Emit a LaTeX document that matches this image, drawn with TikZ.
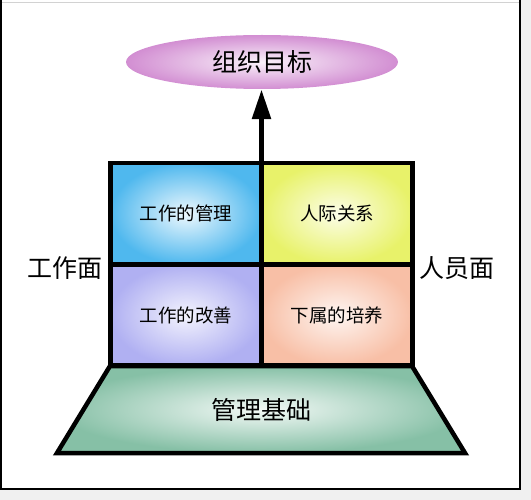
\documentclass[tikz,border=0pt]{standalone}
\usepackage{fontspec}
\newfontfamily\cjk{Noto Sans CJK SC}
\usetikzlibrary{shapes.geometric,arrows.meta}
\definecolor{cblue}{HTML}{4FB8EE}
\definecolor{cyellow}{HTML}{E8F26A}
\definecolor{clav}{HTML}{B0B0F2}
\definecolor{csalmon}{HTML}{F8BFA6}
\definecolor{cgreen}{HTML}{86C0A6}
\definecolor{corchid}{HTML}{D28ED2}
\tikzset{
  cell/.style={draw=black, line width=4.5pt, minimum width=151pt, minimum height=101pt,
    shading=radial, font=\cjk\fontsize{18.5}{20}\selectfont, inner sep=0pt},
  biglabel/.style={font=\cjk\fontsize{25}{28}\selectfont, inner sep=0pt},
}
\begin{document}
\begin{tikzpicture}[x=1pt,y=-1pt]
\useasboundingbox (0,0) rectangle (531,500);
% frame
\fill[gray!12] (0,0) rectangle (531,500);
\fill[white] (0,0) rectangle (520,489);
\draw[gray!35, line width=1pt] (1,2.5) -- (520,2.5);
\draw[black, line width=2pt] (1,0) -- (1,489);
\draw[black, line width=2pt] (520,0) -- (520,489) -- (0,489);
% goal ellipse
\node[ellipse, minimum width=272pt, minimum height=54pt, shading=radial,
  inner color=corchid!12, outer color=corchid, biglabel] (goal) at (262,62) {组织目标};
% base trapezium
\shade[inner color=cgreen!10, outer color=cgreen] (110,366) -- (412,366) -- (465,453) -- (57,453) -- cycle;
\draw[line width=4.5pt, line join=miter] (110,366) -- (412,366) -- (465,453) -- (57,453) -- cycle;
\node[biglabel] (base) at (261,410) {管理基础};
% cells
\node[cell, inner color=cblue!10, outer color=cblue] (c11) at (186,213.5) {工作的管理};
\node[cell, inner color=cyellow!15, outer color=cyellow] (c12) at (337,213.5) {人际关系};
\node[cell, inner color=clav!15, outer color=clav] (c21) at (186,315) {工作的改善};
\node[cell, inner color=csalmon!15, outer color=csalmon] (c22) at (337,315) {下属的培养};
% arrow
\coordinate (top) at (261.5,165);
\draw[line width=5.5pt, -{Triangle[length=30pt,width=18pt]}] (top) -- (top |- goal.south);
% side labels
\node[biglabel] (left) at (65,268) {工作面};
\node[biglabel] (right) at (457,268) {人员面};
\end{tikzpicture}
\end{document}
